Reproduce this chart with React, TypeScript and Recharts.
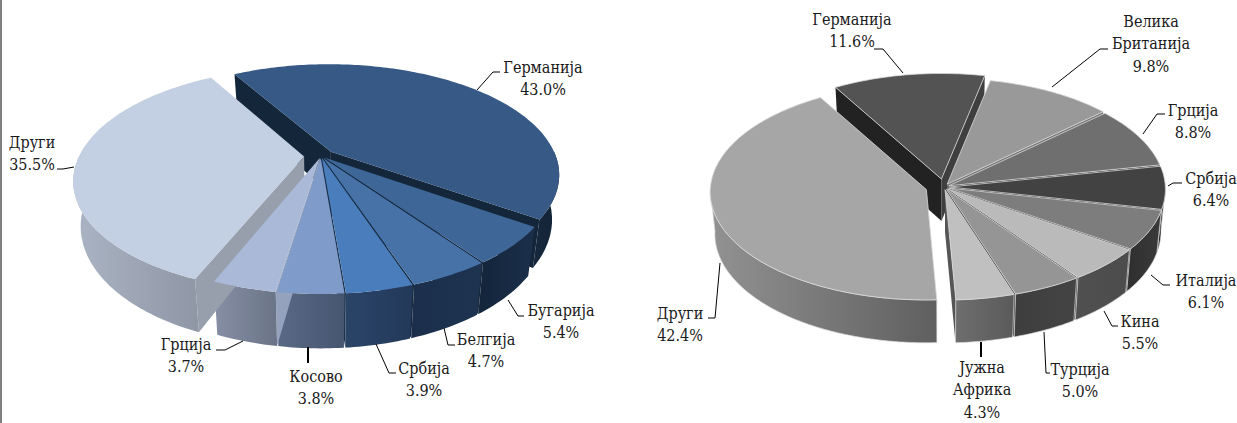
import React from 'react';
import { PieChart, Pie } from 'recharts';

const leftNames = ['Германија', 'Бугарија', 'Белгија', 'Србија', 'Косово', 'Грција', 'Други'];
const leftValues = [43.0, 5.4, 4.7, 3.9, 3.8, 3.7, 35.5];

const rightNames = [
  'Германија',
  'Велика Британија',
  'Грција',
  'Србија',
  'Италија',
  'Кина',
  'Турција',
  'Јужна Африка',
  'Други',
];
const rightValues = [11.6, 9.8, 8.8, 6.4, 6.1, 5.5, 5.0, 4.3, 42.4];

type Pt = [number, number];
type LabelSpot = { x: number; y: number; leader: Pt[]; thick?: boolean };

type Look = {
  id: string;
  cx: number;
  cy: number;
  rx: number;
  ry: number;
  persp: number;
  depth: number;
  shrink: number;
  startAt: number;
  outline: string;
  explode: number[];
  tops: string[];
  wallFrom: string[];
  wallTo: string[];
  startFace: string[];
  endFace: string[];
  names: string[];
  spots: LabelSpot[];
};

const leftLook: Look = {
  id: 'l',
  cx: 321,
  cy: 156,
  rx: 225,
  ry: 107,
  persp: 0.205,
  depth: 43,
  shrink: 0.03,
  startAt: 120,
  outline: 'none',
  explode: [0.06, 0.02, 0.02, 0.02, 0.02, 0.02, 0.075],
  tops: ['#365a85', '#3e6797', '#4672a8', '#4a7dbb', '#7f9bc9', '#a9b9d7', '#c3cfe2'],
  wallFrom: ['#16283d', '#13253a', '#1b2f4b', '#2a4468', '#5a6a86', '#868fa5', '#abb4c4'],
  wallTo: ['#132336', '#1b2f4b', '#1d3350', '#23395a', '#465570', '#6a7486', '#8f97a5'],
  startFace: ['#14263a', '#14263a', '#16293f', '#1a3049', '#8c9fc0', '#94a2be', '#979fad'],
  endFace: ['#14263a', '#14263a', '#16293f', '#1a3049', '#8c9fc0', '#94a2be', '#979fad'],
  names: leftNames,
  spots: [
    { x: 543, y: 67, leader: [[477, 90], [493, 72], [500, 72]] },
    { x: 561, y: 310, leader: [[508, 300], [518, 316], [524, 316]] },
    { x: 486, y: 339, leader: [[444, 328], [448, 345], [455, 345]] },
    { x: 424, y: 368, leader: [[376, 344], [389, 373], [396, 373]] },
    { x: 316, y: 376, leader: [[308, 347], [308, 363]], thick: true },
    { x: 186, y: 344, leader: [[216, 350], [225, 350], [243, 341]] },
    { x: 32, y: 142, leader: [[57, 169], [63, 169], [74, 167]] },
  ],
};

const rightLook: Look = {
  id: 'r',
  cx: 944,
  cy: 187,
  rx: 216,
  ry: 108,
  persp: 0.02,
  depth: 42,
  shrink: 0.02,
  startAt: 120,
  outline: '#d9d9d9',
  explode: [0.075, 0.03, 0.025, 0.025, 0.025, 0.025, 0.025, 0.025, 0.085],
  tops: ['#535353', '#999999', '#6f6f6f', '#424242', '#7d7d7d', '#bababa', '#959595', '#c0c0c0', '#a6a6a6'],
  wallFrom: ['#222222', '#555555', '#333333', '#1c1c1c', '#2f2f2f', '#505050', '#3e3e3e', '#6e6e6e', '#929292'],
  wallTo: ['#222222', '#555555', '#333333', '#1c1c1c', '#3a3a3a', '#4c4c4c', '#444444', '#5a5a5a', '#5f5f5f'],
  startFace: ['#222222', '#777777', '#444444', '#222222', '#333333', '#444444', '#3c3c3c', '#555555', '#777777'],
  endFace: ['#3f3f3f', '#777777', '#2a2a2a', '#1a1a1a', '#333333', '#444444', '#3c3c3c', '#555555', '#777777'],
  names: rightNames,
  spots: [
    { x: 852, y: 19, leader: [[874, 49], [883, 49], [903, 73]] },
    { x: 1151, y: 21, leader: [[1052, 87], [1100, 49], [1108, 49]] },
    { x: 1193, y: 110, leader: [[1143, 134], [1157, 114], [1165, 114]] },
    { x: 1211, y: 178, leader: [[1168, 186], [1173, 183], [1182, 183]] },
    { x: 1206, y: 280, leader: [[1151, 275], [1163, 285], [1170, 285]] },
    { x: 1140, y: 321, leader: [[1104, 311], [1112, 326], [1118, 326]] },
    { x: 1080, y: 369, leader: [[1044, 332], [1046, 373], [1050, 373]] },
    { x: 982, y: 367, leader: [[981, 342], [981, 357]], thick: true },
    { x: 680, y: 313, leader: [[708, 318], [715, 318], [720, 263]] },
  ],
};

const rows = (names: string[], values: number[]) =>
  names.map((name, i) => ({ name, value: values[i] }));

const LINE_GAP = 22.7;
const rad = (d: number) => (d * Math.PI) / 180;

// tilted pie: angle on the disc -> screen point, z is 0 on top and 1 at the bottom of the wall
const project = (g: Look, idx: number, mid: number, deg: number, r: number, z: number): Pt => {
  const e = g.explode[idx];
  const u = r * Math.cos(rad(deg)) + e * Math.cos(rad(mid));
  const v = r * Math.sin(rad(deg)) + e * Math.sin(rad(mid));
  const s = 1 / (1 + g.persp * v);
  const k = z ? 1 - g.shrink : 1;
  return [g.cx + g.rx * u * s * k, g.cy - g.ry * v * s + z * g.depth * s];
};

const toPath = (pts: Pt[]) =>
  'M' + pts.map((p) => `${p[0].toFixed(1)},${p[1].toFixed(1)}`).join('L') + 'Z';

const arcAngles = (start: number, end: number) => {
  const n = Math.max(2, Math.ceil(Math.abs(start - end)));
  return Array.from({ length: n + 1 }, (_, i) => start + ((end - start) * i) / n);
};

const wallShape = (g: Look) => (props: any) => {
  const { startAngle, endAngle, name } = props;
  const idx = g.names.indexOf(name);
  const mid = (startAngle + endAngle) / 2;
  const P = (deg: number, r: number, z: number) => project(g, idx, mid, deg, r, z);
  const face = (deg: number) => toPath([P(deg, 0, 0), P(deg, 1, 0), P(deg, 1, 1), P(deg, 0, 1)]);
  const front = arcAngles(startAngle, endAngle).filter((a) => Math.sin(rad(a)) < 0.01);
  const gid = `wall-${g.id}-${idx}`;
  return (
    <g>
      <defs>
        <linearGradient id={gid} x1="0" y1="0" x2="1" y2="0">
          <stop offset="0" stopColor={g.wallFrom[idx]} />
          <stop offset="1" stopColor={g.wallTo[idx]} />
        </linearGradient>
      </defs>
      {Math.cos(rad(startAngle)) < 0 && <path d={face(startAngle)} fill={g.startFace[idx]} />}
      {Math.cos(rad(endAngle)) > 0 && <path d={face(endAngle)} fill={g.endFace[idx]} />}
      {front.length > 1 && (
        <path
          d={toPath([
            ...front.map((a) => P(a, 1, 0)),
            ...[...front].reverse().map((a) => P(a, 1, 1)),
          ])}
          fill={`url(#${gid})`}
          stroke={g.outline}
          strokeWidth={0.7}
        />
      )}
    </g>
  );
};

const topShape = (g: Look) => (props: any) => {
  const { startAngle, endAngle, name } = props;
  const idx = g.names.indexOf(name);
  const mid = (startAngle + endAngle) / 2;
  const pts = [
    project(g, idx, mid, 0, 0, 0),
    ...arcAngles(startAngle, endAngle).map((a) => project(g, idx, mid, a, 1, 0)),
  ];
  return <path d={toPath(pts)} fill={g.tops[idx]} stroke={g.outline} strokeWidth={0.8} />;
};

const labelFor = (g: Look) => (props: any) => {
  const name: string = props.name ?? props.payload?.name;
  const value: number = props.value ?? props.payload?.value;
  const spot = g.spots[g.names.indexOf(name)];
  const lines = [...name.split(' '), `${value.toFixed(1)}%`];
  return (
    <g>
      <polyline
        points={spot.leader.map((p) => p.join(',')).join(' ')}
        fill="none"
        stroke="#000"
        strokeWidth={spot.thick ? 2 : 1}
      />
      {lines.map((t, i) => (
        <text
          key={i}
          x={spot.x}
          y={spot.y + i * LINE_GAP}
          textAnchor="middle"
          dominantBaseline="central"
          fontFamily="'DejaVu Serif Condensed', 'DejaVu Serif', serif"
          fontStretch="condensed"
          fontSize={16}
          fill="#1a1a1a"
        >
          {t}
        </text>
      ))}
    </g>
  );
};

const layers = (g: Look, values: number[]) => {
  const data = rows(g.names, values);
  const shared = {
    data,
    dataKey: 'value',
    nameKey: 'name',
    cx: g.cx,
    cy: g.cy,
    outerRadius: g.rx,
    startAngle: g.startAt,
    endAngle: g.startAt - 360,
    isAnimationActive: false,
    labelLine: false,
  };
  return [
    <Pie key={`${g.id}-walls`} {...shared} label={false} shape={wallShape(g)} />,
    <Pie key={`${g.id}-tops`} {...shared} label={labelFor(g)} shape={topShape(g)} />,
  ];
};

export default function App() {
  return (
    <div style={{ position: 'absolute', left: 0, top: 0, width: 1237, height: 423, background: '#fff' }}>
      <div style={{ position: 'absolute', left: 0, top: 0, width: 2, height: 423, background: '#7f7f7f' }} />
      <PieChart width={1237} height={423} margin={{ top: 0, right: 0, bottom: 0, left: 0 }}>
        {layers(leftLook, leftValues)}
        {layers(rightLook, rightValues)}
      </PieChart>
    </div>
  );
}
